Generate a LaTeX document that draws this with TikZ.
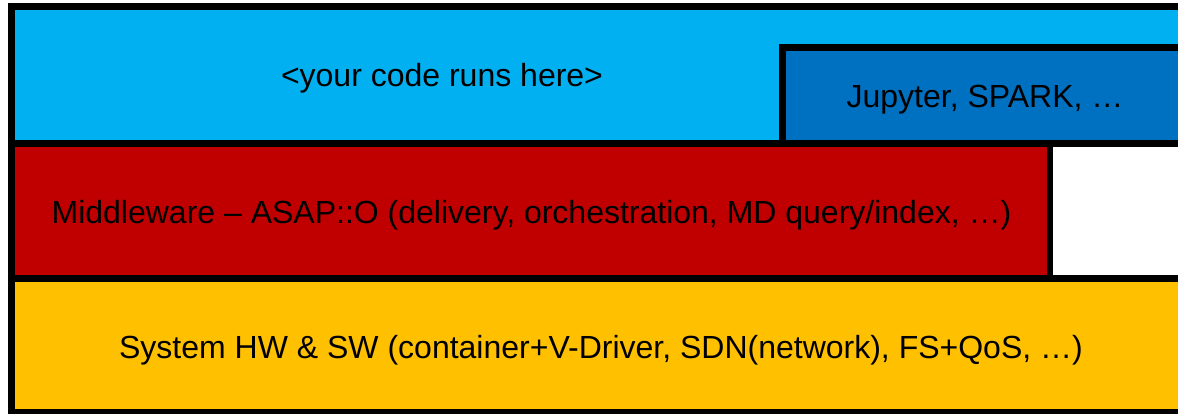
\documentclass[tikz,border=0pt]{standalone}
\usepackage{fontspec}
\setmainfont{Liberation Sans}
\definecolor{appblue}{HTML}{00B0F0}
\definecolor{toolblue}{HTML}{0070C0}
\definecolor{midred}{HTML}{C00000}
\definecolor{sysyellow}{HTML}{FFC000}
\tikzset{
  layer/.style={draw=black, line width=6.6pt},
  label/.style={font=\fontsize{32}{38}\selectfont, text=black, inner sep=0pt, anchor=base}
}
\begin{document}
\begin{tikzpicture}[x=1pt, y=-1pt]
  \useasboundingbox (0,0) rectangle (1178,414);
  \fill[white] (0,0) rectangle (1178,414);
  \begin{scope}
    \clip (0,0) rectangle (1178,414);
    % application layer
    \filldraw[layer, fill=appblue] (11.3,6.7) rectangle (1200,143.3);
    % tools inside the application layer
    \filldraw[layer, fill=toolblue] (782.5,47.3) rectangle (1200,143.3);
    % middleware layer
    \filldraw[layer, fill=midred] (11.3,143.3) rectangle (1050,278.5);
    % system layer
    \filldraw[layer, fill=sysyellow] (11.3,278.5) rectangle (1200,412.4);
  \end{scope}
  \node[label] (app) at (442,87) {<your code runs here>};
  \node[label] (tools) at (985,108) {Jupyter, SPARK, …};
  \node[label] (mid) at (531.5,223.5) {Middleware – ASAP::O (delivery, orchestration, MD query/index, …)};
  \node[label] (sys) at (601,358.5) {System HW \& SW (container+V-Driver, SDN(network), FS+QoS, …)};
\end{tikzpicture}
\end{document}
